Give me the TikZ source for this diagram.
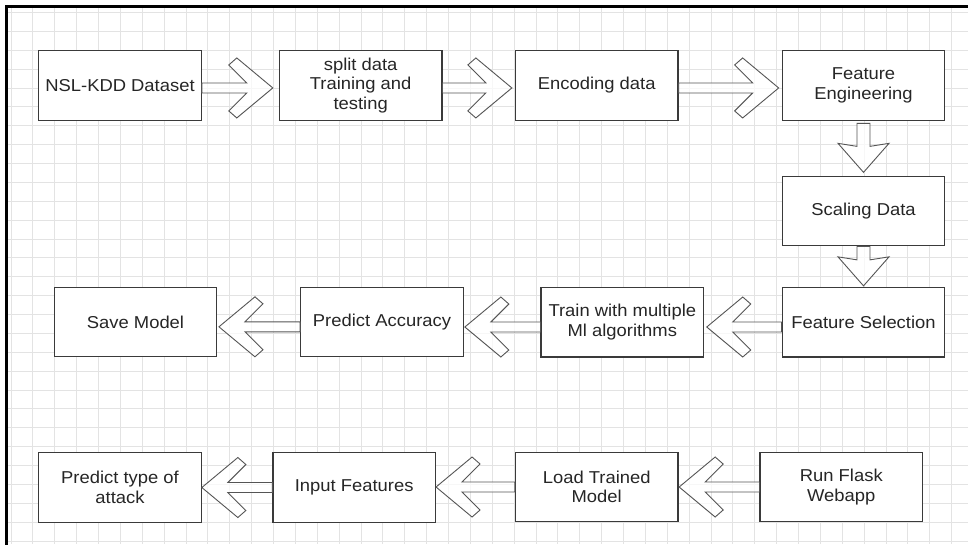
\documentclass[tikz,border=0pt]{standalone}
\usepackage{fontspec}
\setmainfont{Liberation Sans}[FakeStretch=1.07]
\usetikzlibrary{calc}
\definecolor{gridc}{HTML}{E3E3E3}
\definecolor{boxc}{HTML}{3A3A3A}
\definecolor{arrc}{HTML}{555555}
\definecolor{txtc}{HTML}{262626}
\tikzset{
  box/.style={draw=boxc, line width=1.2pt, fill=white, minimum width=162.5pt,
    minimum height=69.5pt, inner sep=0pt, align=center, text=txtc,
    font=\fontsize{17.2}{19.6}\selectfont},
  blockarrow/.style={draw=arrc, line width=0.9pt, fill=white, fill opacity=0.75, line join=miter},
  gridline/.style={draw=gridc, line width=0.8pt},
}
% right-pointing hollow arrow: from, to, tip gap, vertical offset (down)
\newcommand{\chevR}[4]{%
  \draw[blockarrow] let \p1=(#1.east), \p2=(#2.west) in
    (\x1,{\y1-#4pt+5pt}) -- ({\x2-#3pt-26pt},{\y1-#4pt+5pt})
    -- ({\x2-#3pt-44pt},{\y1-#4pt+23pt}) -- ({\x2-#3pt-36pt},{\y1-#4pt+30pt})
    -- ({\x2-#3pt},{\y1-#4pt})
    -- ({\x2-#3pt-36pt},{\y1-#4pt-30pt}) -- ({\x2-#3pt-44pt},{\y1-#4pt-23pt})
    -- ({\x2-#3pt-26pt},{\y1-#4pt-5pt}) -- (\x1,{\y1-#4pt-5pt}) -- cycle;}
% left-pointing hollow arrow
\newcommand{\chevL}[4]{%
  \draw[blockarrow] let \p1=(#1.west), \p2=(#2.east) in
    (\x1,{\y1-#4pt+5pt}) -- ({\x2+#3pt+26pt},{\y1-#4pt+5pt})
    -- ({\x2+#3pt+44pt},{\y1-#4pt+23pt}) -- ({\x2+#3pt+36pt},{\y1-#4pt+30pt})
    -- ({\x2+#3pt},{\y1-#4pt})
    -- ({\x2+#3pt+36pt},{\y1-#4pt-30pt}) -- ({\x2+#3pt+44pt},{\y1-#4pt-23pt})
    -- ({\x2+#3pt+26pt},{\y1-#4pt-5pt}) -- (\x1,{\y1-#4pt-5pt}) -- cycle;}
% downward block arrow: from, to, top gap, tip gap
\newcommand{\vArrowD}[4]{%
  \draw[blockarrow] let \p1=(#1.south), \p2=(#2.north) in
    ({\x1-6.5pt},{\y1-#3pt}) -- ({\x1-6.5pt},{\y2+#4pt+26pt})
    -- ({\x1-25.5pt},{\y2+#4pt+29pt}) -- (\x1,{\y2+#4pt})
    -- ({\x1+25.5pt},{\y2+#4pt+29pt}) -- ({\x1+6.5pt},{\y2+#4pt+26pt})
    -- ({\x1+6.5pt},{\y1-#3pt}) -- cycle;}
\begin{document}
\begin{tikzpicture}[x=1pt,y=-1pt]
\useasboundingbox[fill=white] (0,0) rectangle (968,544);
% grid
\begin{scope}
  \clip (6,6) rectangle (968,544);
  \foreach \i in {0,...,44} \draw[gridline] ({10.9+21.875*\i},6) -- ({10.9+21.875*\i},544);
  \foreach \j in {0,...,28} \draw[gridline] (6,{12.4+18.88*\j}) -- (968,{12.4+18.88*\j});
\end{scope}
% frame
\draw[line width=2.4pt, black, line join=miter] (6.3,545) -- (6.3,6.3) -- (969,6.3);
% boxes
\node[box] (nsl)   at (120,85.35)   {NSL-KDD Dataset};
\node[box] (split) at (360.65,85.35) {split data\\Training and\\testing};
\node[box] (enc)   at (596.7,85.35) {Encoding data};
\node[box] (fe)    at (863.5,85.35) {Feature\\Engineering};
\node[box] (scale) at (863.5,211)   {Scaling Data};
\node[box] (fs)    at (863.5,322.2) {Feature Selection};
\node[box] (train) at (622.3,322.2) {Train with multiple\\Ml algorithms};
\node[box] (pa)    at (382,322)     {Predict Accuracy};
\node[box] (save)  at (135.5,322)   {Save Model};
\node[box] (pt)    at (120,487.5)   {Predict type of\\attack};
\node[box] (inp)   at (354.2,487.5) {Input Features};
\node[box] (load)  at (596.7,487)   {Load Trained\\Model};
\node[box] (run)   at (841.3,487)   {Run Flask\\Webapp};
% arrows
\chevR{nsl}{split}{6}{2.6}
\chevR{split}{enc}{3}{2.6}
\chevR{enc}{fe}{3}{2.6}
\vArrowD{fe}{scale}{2.7}{3.3}
\vArrowD{scale}{fs}{0}{1}
\chevL{fs}{train}{2.6}{4.8}
\chevL{train}{pa}{1}{4.8}
\chevL{pa}{save}{1.6}{4.8}
\chevL{run}{load}{0.6}{0}
\chevL{load}{inp}{0}{0}
\chevL{inp}{pt}{0}{0}
\end{tikzpicture}
\end{document}
